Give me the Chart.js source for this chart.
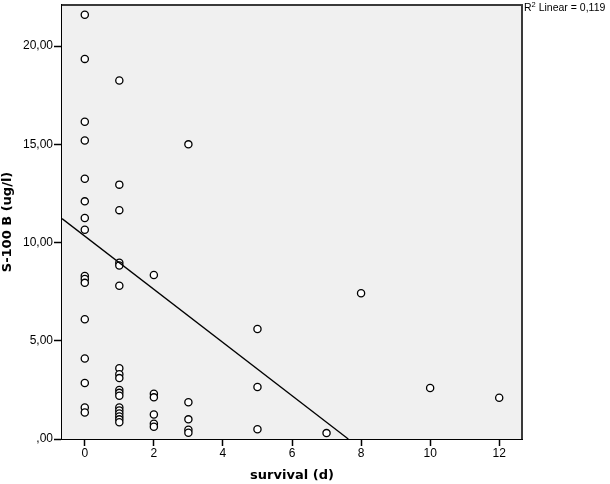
<!DOCTYPE html>
<html>
<head>
<meta charset="utf-8">
<script src="https://cdn.jsdelivr.net/npm/chart.js@4/dist/chart.umd.min.js"></script>
<style>
  html, body { margin: 0; padding: 0; background: #fff; }
  #wrap { width: 610px; height: 484px; }
</style>
</head>
<body>
<div id="wrap"><canvas id="chart" width="610" height="484"></canvas></div>
<script>
/* jslint esversion: 6 */

const survivalDays = [
  0, 0, 0, 0, 0, 0, 0, 0, 0, 0, 0, 0, 0, 0, 0, 0,
  1, 1, 1, 1, 1, 1, 1, 1, 1, 1, 1, 1, 1, 1, 1, 1, 1, 1,
  2, 2, 2, 2, 2, 2,
  3, 3, 3, 3, 3,
  5, 5, 5,
  7, 8, 10, 12
];

const s100b = [
  21.6, 19.35, 16.15, 15.2, 13.25, 12.1, 11.25, 10.65, 8.3, 8.15, 7.95, 6.1, 4.1, 2.85, 1.6, 1.35,
  18.25, 12.95, 11.65, 8.97, 8.83, 7.8, 3.6, 3.3, 3.1, 2.5, 2.35, 2.2, 1.6, 1.45, 1.3, 1.15, 1.0, 0.85,
  8.35, 2.3, 2.12, 1.25, 0.78, 0.62,
  15.0, 1.87, 1.0, 0.47, 0.32,
  5.6, 2.65, 0.5,
  0.3, 7.42, 2.6, 2.1
];

// fit line end points
const fitX = [-0.66, 7.63];
const fitY = [11.22, 0];

const xTicks = [0, 2, 4, 6, 8, 10, 12];
const yTicks = [0, 5, 10, 15, 20];
const r2Label = '0,119';

function toPoints (xs, ys) {
  return xs.map((x, i) => ({ x: x, y: ys[i] }));
}

function commaFmt (v) {
  const s = v.toFixed(2).replace('.', ',');
  return s.startsWith('0,') ? s.slice(1) : s;
}

const plotFrame = {
  id: 'plotFrame',
  beforeDatasetsDraw (chart) {
    const { ctx, chartArea: a } = chart;
    ctx.save();
    ctx.fillStyle = '#f0f0f0';
    ctx.fillRect(a.left, a.top, a.right - a.left, a.bottom - a.top);
    ctx.restore();
  },
  afterDraw (chart) {
    const { ctx, chartArea: a } = chart;
    ctx.save();
    ctx.strokeStyle = '#3a3a3a';
    ctx.lineWidth = 2;
    ctx.beginPath();
    ctx.moveTo(a.left, a.top);
    ctx.lineTo(a.right, a.top);
    ctx.lineTo(a.right, a.bottom);
    ctx.stroke();

    // R² label right of the frame
    const x0 = a.right + 2;
    const yb = 11;
    ctx.fillStyle = '#000';
    ctx.textBaseline = 'alphabetic';
    ctx.font = '10.5px "Liberation Sans", Arial, sans-serif';
    ctx.fillText('R', x0, yb);
    let x = x0 + ctx.measureText('R').width;
    ctx.font = '7.5px "Liberation Sans", Arial, sans-serif';
    ctx.fillText('2', x, yb - 4);
    x += ctx.measureText('2').width;
    ctx.font = '10.5px "Liberation Sans", Arial, sans-serif';
    ctx.fillText(' Linear = ' + r2Label, x, yb);
    ctx.restore();
  }
};

const tickFont = { family: '"Liberation Sans", Arial, sans-serif', size: 12 };
const titleFont = { family: '"DejaVu Sans", Verdana, sans-serif', size: 13, weight: 'bold' };

new Chart(document.getElementById('chart'), {
  type: 'scatter',
  data: {
    datasets: [
      {
        type: 'line',
        data: toPoints(fitX, fitY),
        borderColor: '#000',
        borderWidth: 1.3,
        pointRadius: 0,
        fill: false
      },
      {
        data: toPoints(survivalDays, s100b),
        pointRadius: 3.6,
        pointBorderWidth: 1.3,
        pointBorderColor: '#000',
        pointBackgroundColor: '#fff',
        pointHoverRadius: 3.6
      }
    ]
  },
  options: {
    responsive: false,
    animation: false,
    events: [],
    layout: { padding: { top: -2, right: 88, bottom: 0, left: 0 } },
    plugins: {
      legend: { display: false },
      tooltip: { enabled: false }
    },
    scales: {
      x: {
        type: 'linear',
        min: -0.66,
        max: 12.66,
        afterBuildTicks: (s) => { s.ticks = xTicks.map(v => ({ value: v })); },
        afterFit: (s) => { s.height = 45; s.paddingLeft = 0; s.paddingRight = 0; },
        ticks: { color: '#000', font: tickFont, padding: 0, maxRotation: 0, callback: v => String(v) },
        grid: { drawOnChartArea: false, drawTicks: true, tickLength: 7, tickWidth: 1.5, color: '#000' },
        border: { display: true, color: '#000', width: 2 },
        title: { display: true, text: 'survival (d)', color: '#000', font: titleFont, padding: { top: 0, bottom: 1 } }
      },
      y: {
        type: 'linear',
        min: 0,
        max: 22.1,
        afterBuildTicks: (s) => { s.ticks = yTicks.map(v => ({ value: v })); },
        afterFit: (s) => { s.width = 62; s.paddingTop = 0; s.paddingBottom = 0; },
        ticks: { color: '#000', font: tickFont, padding: 1, callback: v => commaFmt(v) },
        grid: { drawOnChartArea: false, drawTicks: true, tickLength: 8, tickWidth: 1.5, color: '#000' },
        border: { display: true, color: '#000', width: 2 },
        title: { display: true, text: 'S-100 B (ug/l)', color: '#000', font: titleFont, padding: { top: 0, bottom: 0 } }
      }
    }
  },
  plugins: [plotFrame]
});
</script>
</body>
</html>
